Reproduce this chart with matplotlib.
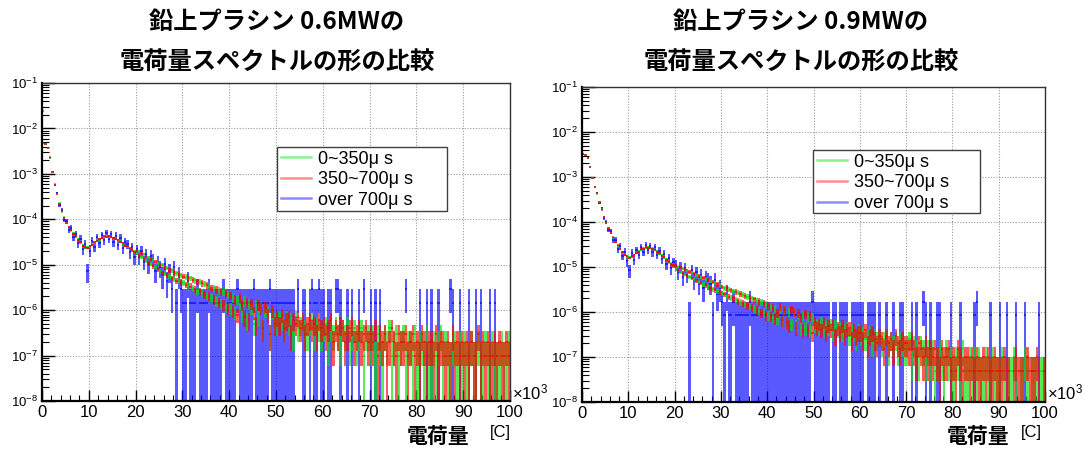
import numpy as np
import matplotlib
matplotlib.use("Agg")
import matplotlib.pyplot as plt
from matplotlib.collections import LineCollection
from matplotlib.lines import Line2D
from matplotlib.patches import Rectangle
from matplotlib.ticker import LogLocator, MultipleLocator, NullFormatter, FixedLocator

plt.rcParams['font.family'] = ['Liberation Sans', 'Noto Sans CJK JP', 'DejaVu Sans']
plt.rcParams['mathtext.fontset'] = 'custom'
plt.rcParams['mathtext.rm'] = 'Liberation Sans'
plt.rcParams['mathtext.it'] = 'Liberation Sans:italic'
plt.rcParams['mathtext.bf'] = 'Liberation Sans:bold'

# ---- binning of the charge axis (x 10^3 C) ----
X_MIN, X_MAX, N_BINS = 0.0, 100.0, 200

LEGEND_LABELS = ["0~350\u03bc s", "350~700\u03bc s", "over 700\u03bc s"]
TITLES = ["鉛上プラシン 0.6MWの\n電荷量スペクトルの形の比較",
          "鉛上プラシン 0.9MWの\n電荷量スペクトルの形の比較"]

# ---- 0.6 MW : counts per bin and normalisation (value = counts * unit) ----
unit_06_green = 1.0e-7
counts_06_green = [
    47000, 44800, 37300, 22800, 10900, 5840, 3580, 2230, 1480, 1110, 822, 690, 565, 495, 412, 365, 306, 275, 243, 242,
    250, 284, 305, 345, 360, 395, 404, 427, 414, 417, 385, 375, 338, 326, 290, 275, 245, 235, 206, 199,
    176, 199, 145, 171, 120, 147, 104, 129, 88, 110, 72, 98, 64, 86, 56, 75, 49, 66, 44, 59,
    40, 54, 35, 50, 30, 45, 27, 42, 24, 38, 21, 33, 18, 30, 16, 27, 14, 25, 12, 22,
    11, 19, 9, 17, 13, 8, 16, 6, 14, 11, 5, 13, 7, 12, 4, 10, 9, 3, 9, 6,
    5, 7, 6, 4, 7, 5, 6, 3, 7, 4, 5, 6, 4, 3, 5, 6, 3, 5, 4, 3,
    4, 5, 2, 4, 3, 5, 3, 2, 4, 3, 5, 2, 3, 4, 2, 3, 4, 1, 3, 3,
    2, 3, 1, 3, 2, 1, 3, 2, 4, 1, 2, 3, 1, 2, 3, 1, 2, 2, 1, 3,
    1, 2, 2, 1, 3, 1, 1, 2, 1, 2, 3, 1, 2, 1, 1, 2, 2, 1, 2, 1,
    2, 1, 1, 2, 1, 1, 2, 1, 1, 2, 1, 1, 2, 1, 1, 1, 2, 1, 1, 2,
]
unit_06_red = 1.0e-7
counts_06_red = [
    240000, 45500, 36800, 23100, 11050, 5760, 3640, 2170, 1520, 1090, 845, 672, 578, 483, 425, 352, 316, 262, 251, 236,
    262, 271, 318, 333, 372, 381, 421, 408, 431, 402, 397, 362, 351, 312, 301, 263, 256, 224, 214, 189,
    208, 158, 180, 132, 155, 110, 133, 92, 115, 79, 99, 66, 86, 58, 76, 50, 68, 44, 60, 40,
    55, 36, 51, 33, 47, 29, 43, 26, 39, 22, 35, 20, 31, 17, 28, 15, 25, 13, 23, 11,
    21, 10, 17, 8, 19, 13, 7, 15, 6, 14, 9, 5, 13, 11, 4, 12, 8, 3, 10, 5,
    7, 5, 8, 4, 6, 7, 3, 6, 5, 7, 4, 6, 3, 5, 6, 4, 5, 3, 6, 4,
    5, 3, 4, 6, 2, 4, 3, 5, 4, 2, 3, 4, 5, 2, 3, 4, 2, 3, 4, 2,
    3, 2, 4, 1, 3, 2, 3, 1, 2, 4, 2, 1, 3, 2, 2, 3, 1, 2, 3, 1,
    2, 1, 3, 2, 1, 2, 2, 1, 3, 1, 2, 2, 1, 2, 1, 3, 1, 2, 1, 2,
    1, 2, 1, 2, 1, 1, 3, 1, 2, 1, 2, 1, 1, 2, 1, 2, 1, 1, 2, 1,
]
unit_06_blue = 1.45e-6
counts_06_blue = [
    3260, 3080, 2590, 1560, 775, 390, 262, 141, 110, 68, 63, 41, 45, 28, 33, 21, 26, 15, 20, 5,
    14, 23, 17, 28, 21, 31, 24, 35, 26, 33, 22, 30, 19, 27, 16, 22, 20, 13, 17, 10,
    15, 10, 14, 8, 12, 7, 11, 9, 5, 8, 6, 4, 7, 3, 5, 2, 6, 1, 4, 2,
    1, 1, 3, 1, 1, 1, 2, 1, 1, 1, 1, 2, 1, 1, 1, 1, 1, 2, 1, 1,
    1, 1, 1, 2, 1, 1, 1, 1, 1, 1, 2, 1, 1, 1, 1, 1, 1, 2, 1, 1,
    1, 1, 1, 1, 1, 1, 1, 1, 0, 2, 0, 1, 1, 0, 1, 2, 1, 1, 2, 1,
    1, 0, 1, 1, 0, 2, 2, 1, 0, 0, 1, 0, 1, 0, 0, 1, 0, 2, 0, 0,
    1, 0, 1, 0, 1, 0, 0, 0, 0, 0, 0, 0, 0, 0, 0, 2, 0, 0, 0, 0,
    0, 1, 0, 0, 1, 0, 1, 0, 0, 1, 0, 0, 0, 0, 2, 1, 0, 0, 1, 0,
    0, 0, 1, 0, 0, 1, 0, 1, 0, 0, 0, 1, 0, 1, 0, 0, 0, 0, 0, 0,
]

# ---- 0.9 MW ----
unit_09_green = 5.0e-8
counts_09_green = [
    63500, 62200, 51800, 34100, 18900, 12050, 8560, 5620, 3810, 2590, 1910, 1450, 1145, 895, 728, 594, 506, 415, 375, 335,
    338, 335, 376, 404, 457, 483, 528, 532, 548, 522, 517, 474, 446, 395, 366, 314, 295, 255, 239, 205,
    178, 203, 152, 185, 135, 165, 119, 149, 106, 131, 94, 120, 82, 109, 74, 97, 65, 88, 58, 78,
    52, 68, 46, 63, 41, 58, 37, 54, 33, 48, 30, 44, 27, 40, 24, 36, 21, 33, 19, 29,
    17, 26, 15, 24, 14, 23, 13, 22, 12, 20, 11, 19, 10, 18, 9, 17, 9, 16, 8, 15,
    10, 11, 9, 12, 8, 10, 9, 11, 7, 10, 8, 9, 7, 8, 9, 6, 8, 7, 5, 8,
    6, 7, 5, 6, 7, 4, 6, 5, 6, 4, 5, 6, 3, 5, 4, 5, 3, 5, 4, 3,
    3, 5, 2, 4, 3, 2, 4, 3, 2, 3, 2, 3, 1, 2, 3, 2, 1, 3, 2, 2,
    1, 2, 2, 1, 3, 1, 1, 2, 1, 2, 1, 2, 1, 1, 2, 1, 1, 2, 1, 1,
    1, 2, 1, 0, 1, 1, 2, 1, 0, 1, 1, 2, 1, 0, 1, 1, 1, 0, 1, 1,
]
unit_09_red = 5.0e-8
counts_09_red = [
    64000, 61800, 52300, 33900, 19100, 11950, 8640, 5580, 3790, 2620, 1890, 1470, 1135, 905, 712, 607, 494, 426, 362, 346,
    322, 347, 361, 418, 442, 501, 511, 553, 529, 541, 498, 489, 431, 408, 352, 329, 283, 266, 227, 216,
    215, 165, 195, 142, 175, 126, 155, 112, 140, 98, 126, 88, 114, 78, 103, 68, 92, 62, 82, 54,
    72, 50, 67, 44, 62, 40, 56, 35, 51, 31, 46, 28, 42, 25, 38, 22, 35, 19, 31, 17,
    28, 16, 25, 14, 19, 26, 13, 22, 12, 10, 23, 20, 9, 19, 15, 8, 18, 8, 17, 7,
    12, 9, 11, 8, 12, 7, 10, 8, 11, 6, 9, 7, 10, 6, 8, 9, 5, 8, 6, 7,
    7, 5, 8, 4, 6, 7, 5, 4, 6, 5, 3, 6, 4, 5, 3, 6, 4, 3, 5, 4,
    4, 3, 5, 3, 2, 4, 3, 2, 4, 2, 3, 2, 3, 2, 1, 3, 2, 2, 3, 1,
    2, 1, 3, 2, 1, 2, 2, 1, 2, 1, 2, 1, 1, 2, 1, 2, 1, 1, 2, 1,
    1, 1, 2, 1, 1, 0, 1, 2, 1, 1, 1, 0, 2, 1, 1, 1, 2, 1, 0, 1,
]
unit_09_blue = 8.5e-7
counts_09_blue = [
    3790, 3620, 3100, 1980, 1140, 690, 520, 318, 236, 145, 120, 79, 74, 47, 48, 30, 34, 21, 26, 16,
    10, 24, 17, 28, 22, 33, 26, 36, 28, 35, 25, 32, 22, 27, 18, 23, 14, 19, 11, 15,
    13, 9, 12, 7, 11, 8, 1, 10, 6, 9, 5, 8, 4, 7, 6, 5, 1, 6, 3, 4,
    2, 1, 3, 1, 1, 2, 1, 1, 1, 1, 1, 1, 2, 1, 1, 1, 1, 1, 1, 1,
    1, 1, 1, 1, 1, 1, 1, 1, 1, 1, 1, 1, 1, 1, 1, 1, 1, 1, 1, 2,
    1, 1, 1, 1, 1, 1, 1, 0, 1, 1, 0, 1, 1, 1, 1, 0, 1, 1, 1, 1,
    1, 1, 0, 1, 1, 1, 1, 0, 1, 0, 0, 1, 0, 0, 1, 0, 0, 1, 1, 0,
    0, 0, 1, 0, 1, 0, 0, 2, 1, 0, 1, 0, 0, 1, 1, 0, 0, 0, 0, 1,
    0, 0, 0, 1, 0, 0, 0, 0, 0, 1, 2, 0, 0, 0, 0, 0, 1, 0, 0, 0,
    1, 0, 0, 1, 0, 0, 0, 1, 0, 0, 0, 1, 0, 0, 0, 0, 0, 1, 0, 0,
]

GREEN, RED, BLUE = "#00e000", "#ff0000", "#0000ff"

W, H = 1084, 449
fig = plt.figure(figsize=(W / 100, H / 100), dpi=100)


def px_axes(x0, y0, x1, y1):
    return fig.add_axes([x0 / W, 1 - y1 / H, (x1 - x0) / W, (y1 - y0) / H])


def draw_hist(ax, counts, unit, color, alpha):
    """Histogram with Poisson error boxes: each bin is a filled box spanning
    value +- sqrt(N)*unit plus a line at the bin value."""
    edges = np.linspace(X_MIN, X_MAX, N_BINS + 1)
    centers = 0.5 * (edges[:-1] + edges[1:])
    bw = edges[1] - edges[0]
    n = np.asarray(counts, dtype=float)
    m = n > 0
    val = n[m] * unit
    err = np.sqrt(n[m]) * unit
    lo = np.maximum(val - err, 1e-11)
    hi = val + err
    ax.bar(centers[m], hi - lo, width=bw, bottom=lo, color=color,
           alpha=alpha, linewidth=0, zorder=2, antialiased=False)
    hsegs = [((a, v), (b, v)) for a, b, v in zip(edges[:-1][m], edges[1:][m], val)]
    ax.add_collection(LineCollection(hsegs, colors=color, linewidths=1.4,
                                     alpha=alpha, capstyle='butt', zorder=2))


def style_axes(ax):
    ax.set_yscale('log')
    ax.set_xlim(X_MIN, X_MAX)
    ax.set_ylim(1e-8, 1e-1)
    ax.yaxis.set_major_locator(FixedLocator([10.0 ** k for k in range(-8, 0)]))
    ax.yaxis.set_minor_locator(LogLocator(base=10, subs=np.arange(2, 10), numticks=20))
    ax.yaxis.set_minor_formatter(NullFormatter())
    ax.yaxis.set_major_formatter(plt.FuncFormatter(
        lambda v, pos: r"$10^{%d}$" % int(round(np.log10(v)))))
    ax.xaxis.set_major_locator(MultipleLocator(10))
    ax.xaxis.set_minor_locator(MultipleLocator(2))
    ax.tick_params(axis='both', which='both', direction='in', top=False, right=False)
    ax.tick_params(axis='y', which='major', length=9, width=1.0, labelsize=9.5, pad=3)
    ax.tick_params(axis='y', which='minor', length=5, width=0.8)
    ax.tick_params(axis='x', which='major', length=8, width=1.0, labelsize=12, pad=3)
    ax.tick_params(axis='x', which='minor', length=4, width=0.8)
    ax.grid(True, which='major', color='#9a9a9a', linestyle=(0, (1, 1.5)), linewidth=0.8)
    ax.set_axisbelow(True)
    for s in ('left', 'bottom'):
        ax.spines[s].set_linewidth(1.6)
        ax.spines[s].set_color('black')
    for s in ('top', 'right'):
        ax.spines[s].set_linewidth(1.0)
        ax.spines[s].set_color('#333333')


def add_legend(ax, box):
    bx0, by0, bx1, by1 = box
    frame = Rectangle((bx0, by0), bx1 - bx0, by1 - by0, transform=ax.transAxes,
                      facecolor='white', edgecolor='#404040', linewidth=1.0,
                      zorder=4)
    ax.add_patch(frame)
    handles = [Line2D([], [], color=c, lw=1.8, alpha=0.45) for c in (GREEN, RED, BLUE)]
    leg = ax.legend(handles, LEGEND_LABELS, loc='upper left', bbox_to_anchor=(bx0, by1),
                    fontsize=13, frameon=False, handlelength=1.7,
                    handletextpad=0.35, labelspacing=0.2, borderpad=0.2,
                    borderaxespad=0.0)
    leg.set_zorder(5)


panels = [
    dict(box=(42, 83, 510, 401), title_x=277,
         series=[(counts_06_blue, unit_06_blue, BLUE),
                 (counts_06_green, unit_06_green, GREEN),
                 (counts_06_red, unit_06_red, RED)],
         legend=(0.502, 0.597, 0.865, 0.799), xlab=438, unitlab=500),
    dict(box=(582, 87, 1045, 402), title_x=801,
         series=[(counts_09_blue, unit_09_blue, BLUE),
                 (counts_09_green, unit_09_green, GREEN),
                 (counts_09_red, unit_09_red, RED)],
         legend=(0.499, 0.600, 0.860, 0.800), xlab=978, unitlab=1031),
]

for p, title in zip(panels, TITLES):
    x0, y0, x1, y1 = p['box']
    ax = px_axes(x0, y0, x1, y1)
    style_axes(ax)
    for counts, unit, color in p['series']:
        draw_hist(ax, counts, unit, color, alpha=0.65)
    add_legend(ax, p['legend'])
    l1, l2 = title.split("\n")
    fig.text(p['title_x'] / W, 1 - 22 / H, l1, ha='center', va='center',
             fontsize=17.5, fontweight='bold', family=['Noto Sans CJK JP'])
    fig.text(p['title_x'] / W, 1 - 63 / H, l2, ha='center', va='center',
             fontsize=17.5, fontweight='bold', family=['Noto Sans CJK JP'])
    fig.text((x1 + 2) / W, 1 - 392 / H, r"$\times10^{3}$", ha='left', va='center',
             fontsize=12)
    fig.text(p['xlab'] / W, 1 - 437 / H, "電荷量", ha='center', va='center',
             fontsize=15, fontweight='bold', family=['Noto Sans CJK JP'])
    fig.text(p['unitlab'] / W, 1 - 433 / H, "[C]", ha='center', va='center',
             fontsize=12)

fig.savefig("out.png", dpi=100)
